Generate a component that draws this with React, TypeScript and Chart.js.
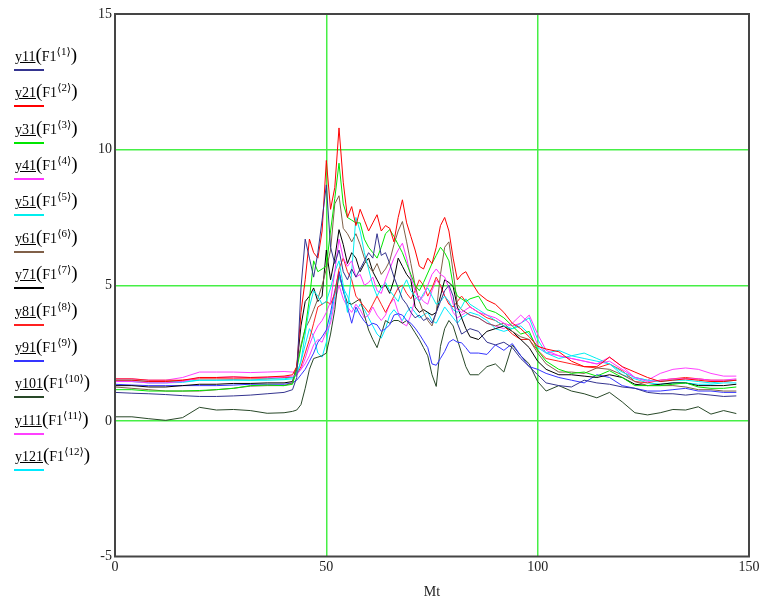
import React, { useEffect, useRef } from 'react';
import { Chart, registerables } from 'chart.js';
Chart.register(...registerables);

// x positions (Mt)
const X = [0,4,8,12,16,20,24,28,32,36,40,42,
  43,44,45,46,47,48,49,50,51,52,53,54,55,56,57,58,59,60,61,62,63,64,65,66,67,68,69,70,71,72,73,74,75,76,77,78,79,80,81,82,83,84,
  86,88,90,92,94,96,98,100,102,105,108,111,114,117,120,123,126,129,132,135,138,141,144,147];

const Y11 = [1.05,1.02,1.0,0.97,0.93,0.9,0.9,0.92,0.95,1.0,1.05,1.15,
  1.6,4.9,6.7,6.0,5.3,6.2,7.4,8.7,6.4,5.8,6.3,5.5,5.2,5.6,5.3,5.6,5.9,6.2,6.0,6.9,6.1,6.2,5.8,5.3,4.9,4.5,4.3,4.0,3.8,3.9,3.7,3.8,3.6,4.0,4.4,4.8,5.0,4.6,3.6,3.2,3.3,3.4,
  3.3,2.9,2.8,2.9,2.7,2.3,2.0,1.7,1.4,1.3,1.25,1.5,1.4,1.35,1.25,1.2,1.05,1.0,1.0,0.95,1.0,0.95,0.9,0.92];
const Y21 = [1.5,1.5,1.45,1.45,1.5,1.6,1.6,1.62,1.6,1.62,1.65,1.7,
  2.0,4.0,5.2,6.7,6.2,6.0,7.0,9.6,7.8,8.6,10.8,8.8,7.5,7.9,7.2,7.8,7.4,7.0,7.3,7.6,7.0,7.2,7.1,6.6,7.5,8.15,7.3,6.8,6.3,5.7,5.6,6.0,5.8,6.4,7.2,7.5,7.0,6.0,5.2,5.4,5.5,5.2,
  4.7,4.45,4.3,4.0,3.6,3.4,3.1,2.75,2.65,2.55,2.2,2.0,2.0,2.35,2.0,1.8,1.6,1.45,1.5,1.55,1.5,1.45,1.45,1.5];
const Y31 = [1.15,1.15,1.1,1.1,1.1,1.12,1.15,1.2,1.3,1.32,1.3,1.35,
  1.9,2.7,3.4,4.5,5.9,5.5,5.6,5.7,7.0,8.2,9.5,8.0,7.5,7.4,7.3,7.3,6.7,6.4,6.2,6.0,6.4,6.9,7.05,6.8,6.5,6.2,5.8,5.4,5.0,4.8,5.1,5.45,5.8,6.1,6.4,6.2,5.9,5.0,4.6,4.5,4.4,4.5,
  4.6,4.1,4.0,3.8,3.5,3.2,3.3,2.6,2.2,1.9,1.75,1.8,1.65,1.85,1.6,1.3,1.3,1.3,1.35,1.4,1.25,1.2,1.2,1.25];
const Y41 = [1.45,1.45,1.4,1.4,1.45,1.6,1.6,1.62,1.6,1.6,1.62,1.65,
  1.7,1.9,2.3,2.8,3.2,3.5,3.7,4.0,4.4,5.5,6.7,6.0,5.7,5.9,5.3,5.4,5.0,5.1,5.3,4.8,4.7,5.2,5.6,6.0,6.3,6.55,6.0,5.3,4.8,4.45,4.6,5.0,5.4,5.6,5.4,5.3,4.9,4.3,4.1,4.0,4.1,4.2,
  4.0,3.9,3.8,3.6,3.5,3.6,3.9,3.2,2.6,2.4,2.3,2.2,2.1,2.2,1.9,1.6,1.45,1.5,1.55,1.55,1.55,1.5,1.5,1.55];
const Y51 = [1.5,1.5,1.45,1.45,1.45,1.5,1.5,1.5,1.5,1.55,1.55,1.6,
  1.7,2.2,3.2,4.2,4.8,4.6,4.3,4.4,4.9,5.5,5.9,5.0,4.0,5.5,7.5,7.0,6.2,5.6,5.0,4.6,4.9,5.1,4.8,4.6,4.4,4.9,5.2,4.8,4.6,4.4,4.7,4.9,4.6,4.3,4.4,4.6,4.4,4.1,4.0,4.2,4.5,4.3,
  4.1,3.9,3.7,3.5,3.4,3.6,3.8,3.0,2.5,2.3,2.4,2.5,2.3,2.1,1.8,1.6,1.5,1.45,1.5,1.5,1.45,1.4,1.45,1.5];
const Y61 = [1.25,1.2,1.15,1.1,1.1,1.1,1.15,1.2,1.28,1.3,1.3,1.4,
  2.0,2.8,3.4,3.7,4.1,4.5,5.0,5.6,6.3,8.0,8.3,7.1,6.9,6.6,6.9,6.5,6.0,5.7,5.5,5.8,5.4,5.6,5.9,6.5,7.0,7.35,6.6,5.8,5.0,4.4,4.0,3.7,3.5,4.0,5.4,6.4,6.6,5.5,4.3,4.1,4.0,3.9,
  3.8,3.6,3.5,3.6,3.3,3.1,3.0,2.5,2.1,1.8,1.8,1.75,1.95,1.9,1.7,1.45,1.3,1.3,1.3,1.25,1.15,1.15,1.1,1.1];
const Y71 = [1.3,1.3,1.25,1.25,1.3,1.35,1.35,1.38,1.38,1.4,1.4,1.45,
  2.0,3.5,4.4,4.6,4.9,4.4,4.6,6.3,5.2,6.0,7.05,6.5,5.8,6.2,6.0,5.5,5.8,6.0,5.5,5.2,4.9,5.0,4.7,5.2,6.0,5.7,5.4,5.2,4.2,4.0,4.1,4.0,3.9,4.0,4.6,5.2,5.1,4.95,4.2,3.8,3.4,3.1,
  3.0,3.3,3.4,3.5,3.3,3.0,2.7,2.2,1.9,1.7,1.7,1.65,1.6,1.7,1.6,1.35,1.3,1.35,1.4,1.4,1.3,1.3,1.3,1.35];
const Y81 = [1.55,1.55,1.5,1.5,1.5,1.55,1.55,1.55,1.55,1.55,1.6,1.6,
  1.7,2.0,2.5,3.0,3.6,4.2,4.3,4.4,4.3,4.7,5.6,6.0,5.5,5.2,4.6,4.4,4.2,4.0,4.3,4.6,4.3,4.0,4.3,4.6,4.9,5.0,4.7,4.5,4.8,5.2,5.0,4.6,4.9,5.3,5.0,4.6,4.3,4.2,4.4,4.6,4.4,4.2,
  4.0,3.8,3.7,3.5,3.2,3.0,3.0,2.6,2.3,2.2,2.1,2.0,1.95,2.1,1.85,1.45,1.4,1.5,1.55,1.6,1.55,1.5,1.5,1.5];
const Y91 = [1.35,1.32,1.3,1.3,1.3,1.3,1.3,1.32,1.35,1.35,1.35,1.4,
  1.5,1.7,1.9,2.2,2.5,2.9,3.1,3.35,4.0,4.8,5.5,4.8,4.2,3.6,4.2,3.9,3.67,3.5,3.6,3.54,3.3,3.4,3.54,3.9,3.95,3.9,3.7,3.6,3.42,3.2,2.95,2.7,2.1,2.05,2.3,2.56,2.9,3.0,2.9,2.88,2.7,2.5,
  2.5,2.45,2.8,2.6,2.85,2.4,2.0,1.9,1.75,1.6,1.5,1.4,1.7,1.6,1.3,1.2,1.1,1.1,1.15,1.2,1.1,1.1,1.05,1.05];
const Y101 = [0.15,0.15,0.08,0.02,0.12,0.5,0.4,0.42,0.38,0.28,0.3,0.35,
  0.4,0.6,1.2,1.9,2.3,2.35,2.4,2.5,3.2,4.1,5.5,4.8,4.35,4.3,4.4,4.5,3.9,3.35,3.0,2.7,3.2,3.7,3.6,3.7,3.7,3.6,3.7,3.5,3.25,3.0,2.7,2.4,1.7,1.27,2.75,3.4,3.7,3.5,3.0,2.5,2.0,1.7,
  1.7,2.0,2.1,1.8,2.8,2.4,2.1,1.45,1.1,1.3,1.1,1.0,0.85,1.05,0.7,0.3,0.22,0.3,0.42,0.4,0.52,0.25,0.38,0.27];
const Y111 = [1.55,1.55,1.5,1.5,1.6,1.8,1.8,1.8,1.78,1.8,1.82,1.8,
  1.8,1.9,2.1,2.4,2.8,3.0,2.9,3.3,3.6,4.4,5.0,4.5,4.2,4.0,4.3,4.1,3.8,3.9,4.2,3.9,3.7,3.9,4.3,4.5,4.0,3.6,3.5,3.9,4.5,4.6,4.4,4.3,4.8,5.2,5.0,4.6,4.4,4.0,3.8,3.9,4.0,3.9,
  3.8,3.6,3.5,3.4,3.6,3.9,3.6,2.8,2.5,2.4,2.3,2.2,2.1,2.35,2.0,1.6,1.5,1.75,1.9,1.95,1.9,1.75,1.65,1.65];
const Y121 = [1.45,1.45,1.4,1.4,1.42,1.5,1.5,1.52,1.5,1.5,1.52,1.55,
  1.7,2.2,2.8,3.4,3.1,2.5,2.35,2.9,3.8,4.6,5.3,4.9,4.6,4.2,4.0,4.3,4.1,3.8,3.5,3.2,3.05,3.4,3.9,4.1,3.9,3.7,4.0,4.2,4.0,3.8,3.9,4.0,3.7,3.6,3.9,4.2,4.0,3.8,3.6,3.8,3.9,4.0,
  3.9,3.7,3.4,3.3,3.4,3.5,3.2,2.7,2.5,2.6,2.4,2.3,2.2,2.1,1.7,1.55,1.4,1.35,1.4,1.4,1.35,1.35,1.4,1.4];

const X_TICKS = [0, 50, 100, 150];
const Y_TICKS = [-5, 0, 5, 10, 15];
const X_TITLE = 'Mt';

const SERIES_NAMES = ['y11', 'y21', 'y31', 'y41', 'y51', 'y61', 'y71', 'y81', 'y91', 'y101', 'y111', 'y121'];
const SERIES_SUPS = ['1', '2', '3', '4', '5', '6', '7', '8', '9', '10', '11', '12'];
const SERIES_DATA = [Y11, Y21, Y31, Y41, Y51, Y61, Y71, Y81, Y91, Y101, Y111, Y121];
const SERIES_COLORS = ['#34348f', '#ff0000', '#00e600', '#ff33ff', '#00eeee', '#806048', '#000000', '#ff2020', '#3535ff', '#284828', '#ff40ff', '#00eaff'];

const FONT = '"Liberation Serif", "Times New Roman", "DejaVu Serif", serif';
const GRID_GREEN = '#46ef46';

const boxPlugin = {
  id: 'mathcadBox',
  afterDatasetsDraw(chart: any) {
    const { ctx, chartArea } = chart;
    ctx.save();
    ctx.strokeStyle = '#454545';
    ctx.lineWidth = 2;
    ctx.strokeRect(chartArea.left, chartArea.top, chartArea.right - chartArea.left, chartArea.bottom - chartArea.top);
    ctx.restore();
  },
};

export default function App() {
  const ref = useRef<HTMLCanvasElement | null>(null);

  useEffect(() => {
    if (!ref.current) return;
    const datasets = SERIES_DATA.map((arr, k) => ({
      label: SERIES_NAMES[k],
      data: arr.map((v, i) => ({ x: X[i], y: v })),
      borderColor: SERIES_COLORS[k],
      backgroundColor: SERIES_COLORS[k],
      borderWidth: 1,
      pointRadius: 0,
      tension: 0,
      fill: false,
    }));
    const gridColor = (c: any) => {
      const v = c.tick ? c.tick.value : null;
      return v === 0 || v === 5 || v === 10 || v === 50 || v === 100 ? GRID_GREEN : 'rgba(0,0,0,0)';
    };
    const chart = new Chart(ref.current, {
      type: 'line',
      data: { datasets },
      plugins: [boxPlugin],
      options: {
        animation: false,
        responsive: false,
        devicePixelRatio: 1,
        layout: { padding: { left: 0, top: 14, right: 16, bottom: 0 } },
        plugins: { legend: { display: false }, tooltip: { enabled: false } },
        scales: {
          x: {
            type: 'linear',
            min: 0,
            max: 150,
            afterBuildTicks: (s: any) => { s.ticks = X_TICKS.map((v) => ({ value: v })); },
            afterFit: (s: any) => { s.height = 48.5; },
            ticks: { font: { family: FONT, size: 14 }, color: '#222', padding: 2, maxRotation: 0 },
            grid: {
              color: (c: any) => (c.tick && (c.tick.value === 50 || c.tick.value === 100) ? GRID_GREEN : 'rgba(0,0,0,0)'),
              lineWidth: 1.5,
              drawTicks: false,
            },
            border: { display: false },
            title: { display: true, text: X_TITLE, font: { family: FONT, size: 14 }, color: '#222', padding: { top: 0, bottom: 4 } },
          },
          y: {
            type: 'linear',
            min: -5,
            max: 15,
            afterBuildTicks: (s: any) => { s.ticks = Y_TICKS.map((v) => ({ value: v })); },
            afterFit: (s: any) => { s.width = 115; },
            ticks: { font: { family: FONT, size: 14 }, color: '#222', padding: 3 },
            grid: { color: gridColor, lineWidth: 1.5, drawTicks: false },
            border: { display: false },
          },
        },
      },
    });
    return () => chart.destroy();
  }, []);

  return (
    <div style={{ position: 'absolute', left: 0, top: 0, width: 765, height: 605, background: '#fff' }}>
      <canvas ref={ref} width={765} height={605} style={{ position: 'absolute', left: 0, top: 0, width: 765, height: 605 }} />
      {SERIES_NAMES.map((name, k) => (
        <React.Fragment key={name}>
          <div
            style={{
              position: 'absolute',
              left: 15,
              top: 45 + 36.36 * k,
              fontFamily: FONT,
              fontSize: 14,
              lineHeight: '20px',
              color: '#000',
              whiteSpace: 'nowrap',
            }}
          >
            <span style={{ textDecoration: 'underline' }}>{name}</span>
            <span style={{ fontSize: 19, lineHeight: '20px' }}>(</span>
            <span>F1</span>
            <sup style={{ fontSize: 11, lineHeight: '10px', verticalAlign: '6px' }}>{'\u27E8' + SERIES_SUPS[k] + '\u27E9'}</sup>
            <span style={{ fontSize: 19, lineHeight: '20px' }}>)</span>
          </div>
          <div
            style={{
              position: 'absolute',
              left: 14,
              top: 69 + 36.36 * k,
              width: 30,
              height: 2,
              background: SERIES_COLORS[k],
            }}
          />
        </React.Fragment>
      ))}
    </div>
  );
}
